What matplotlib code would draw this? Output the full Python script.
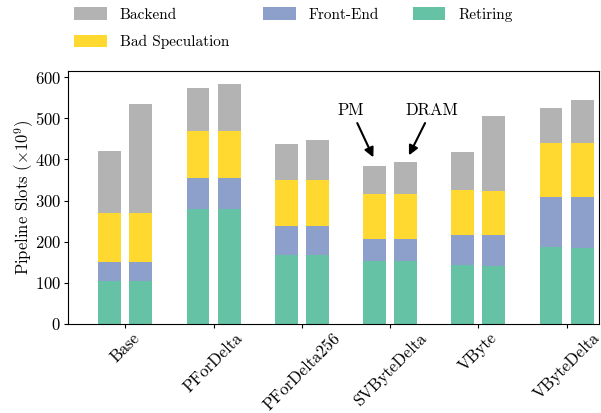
import matplotlib
matplotlib.use('Agg')
import matplotlib.pyplot as plt
import numpy as np

plt.rcParams['font.family'] = ['cmr10', 'DejaVu Serif']
plt.rcParams['mathtext.fontset'] = 'cm'
plt.rcParams['axes.formatter.use_mathtext'] = True

# data (10^9 pipeline slots), two runs per codec: PM, DRAM
codecs = ['Base', 'PForDelta', 'PForDelta256', 'SVByteDelta', 'VByte', 'VByteDelta']
retiring_pm = [104, 279, 168, 152, 143, 187]
retiring_dram = [104, 279, 168, 152, 142, 185]
frontend_pm = [47, 76, 71, 54, 73, 121]
frontend_dram = [47, 76, 71, 54, 74, 123]
badspec_pm = [119, 114, 111, 111, 109, 132]
badspec_dram = [119, 114, 111, 111, 107, 132]
backend_pm = [150, 104, 87, 67, 93, 85]
backend_dram = [264, 114, 97, 76, 182, 104]

colors = {'Retiring': '#66c2a5', 'Front-End': '#8da0cb',
          'Bad Speculation': '#ffd92f', 'Backend': '#b3b3b3'}

fig = plt.figure(figsize=(6.01, 4.13), dpi=100)
ax = fig.add_axes([0.113, 0.2155, 0.884, 0.6125])

x = np.arange(len(codecs))
w = 0.26
off = 0.176

runs = [(x - off, retiring_pm, frontend_pm, badspec_pm, backend_pm),
        (x + off, retiring_dram, frontend_dram, badspec_dram, backend_dram)]
for i, (pos, ret, fe, bs, be) in enumerate(runs):
    ret = np.array(ret)
    fe = np.array(fe)
    bs = np.array(bs)
    be = np.array(be)
    ax.bar(pos, ret, w, color=colors['Retiring'], label='Retiring' if i == 0 else None)
    ax.bar(pos, fe, w, bottom=ret, color=colors['Front-End'], label='Front-End' if i == 0 else None)
    ax.bar(pos, bs, w, bottom=ret + fe, color=colors['Bad Speculation'],
           label='Bad Speculation' if i == 0 else None)
    ax.bar(pos, be, w, bottom=ret + fe + bs, color=colors['Backend'],
           label='Backend' if i == 0 else None)

ax.set_xlim(-0.65, 5.37)
ax.set_ylim(0, 615)
ax.set_yticks(np.arange(0, 601, 100))
ax.set_xticks(x)
ax.set_xticklabels(codecs, rotation=45, ha='center', fontsize=12)
ax.tick_params(axis='y', labelsize=12, length=3, pad=2)
ax.tick_params(axis='x', length=3, pad=1.5)
ax.set_ylabel(r'Pipeline Slots ($\times 10^9$)', fontsize=12, labelpad=-1)

# annotate the two runs
tot_pm = retiring_pm[3] + frontend_pm[3] + badspec_pm[3] + backend_pm[3]
tot_dram = retiring_dram[3] + frontend_dram[3] + badspec_dram[3] + backend_dram[3]
ax.annotate('PM', xy=(3 - off, tot_pm + 15), xytext=(2.56, 520), ha='center', va='center',
            fontsize=12, arrowprops=dict(arrowstyle='-|>', color='black', lw=1.5, mutation_scale=14))
ax.annotate('DRAM', xy=(3 + 0.2, tot_dram + 11), xytext=(3.47, 520), ha='center', va='center',
            fontsize=12, arrowprops=dict(arrowstyle='-|>', color='black', lw=1.5, mutation_scale=14))

handles, labels = ax.get_legend_handles_labels()
order = ['Backend', 'Bad Speculation', 'Front-End', 'Retiring']
hmap = dict(zip(labels, handles))
fig.legend([hmap[k] for k in order], order, ncol=3, frameon=False, fontsize=11,
           loc='upper left', bbox_to_anchor=(74 / 601, 1 - 7 / 413), borderpad=0,
           borderaxespad=0, handlelength=2.15, handleheight=0.9, handletextpad=0.85,
           columnspacing=2.2, labelspacing=0.85)

fig.savefig('out.png', dpi=100)
